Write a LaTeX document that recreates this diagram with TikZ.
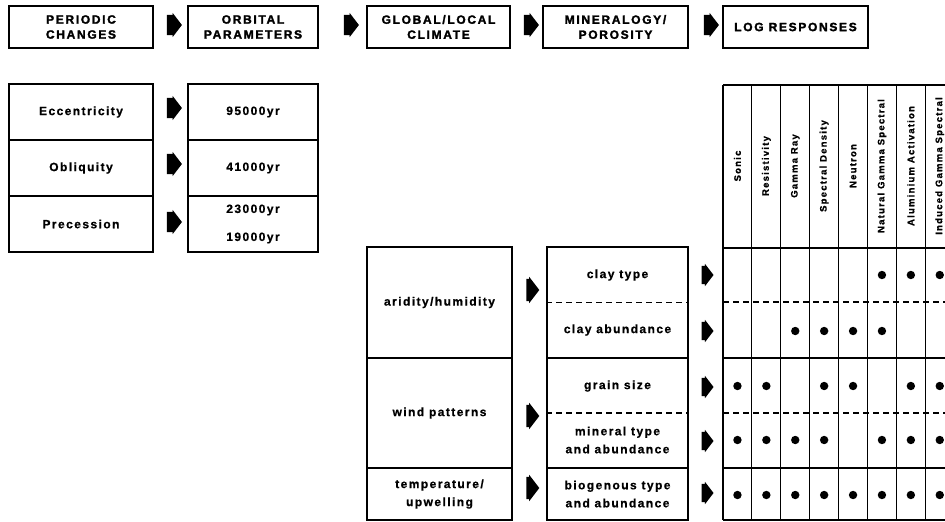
\documentclass[tikz,border=0pt]{standalone}
\usepackage{fontspec}
\setmainfont{Liberation Sans}
\newfontfamily\headfont[LetterSpace=14,FakeBold=2]{Liberation Sans}
\newfontfamily\bodyfont[LetterSpace=12,FakeBold=0.8]{Liberation Sans}
\newfontfamily\tabfont[LetterSpace=13,FakeBold=0.8]{Liberation Sans}
\usetikzlibrary{shapes.arrows}
\begin{document}
\begin{tikzpicture}[x=1pt,y=-1pt,
  head/.style={draw,line width=1.3pt,minimum height=42pt,align=center,inner sep=0pt,font=\headfont\bfseries\fontsize{12}{15}\selectfont},
  cell/.style={draw,line width=1.1pt,align=center,inner sep=0pt,font=\bodyfont\bfseries\fontsize{12}{18}\selectfont},
  grp/.style={draw,line width=1.1pt,inner sep=0pt},
  txt/.style={align=center,inner sep=0pt,font=\bodyfont\bfseries\fontsize{12}{18}\selectfont},
  tabtxt/.style={rotate=90,inner sep=0pt,font=\tabfont\bfseries\fontsize{9.5}{10}\selectfont},
  barrow/.style={single arrow,fill=black,draw=none,inner sep=0pt,single arrow tip angle=105,single arrow head extend=2pt,minimum height=15pt},
  rule/.style={line width=1.1pt},
  drule/.style={line width=1.1pt,dash pattern=on 6pt off 4pt},
  dot/.style={fill=black}]
\newcommand\shaftL{\rule{0pt}{20pt}}
\newcommand\shaftM{\rule{0pt}{22pt}}
\newcommand\shaftS{\rule{0pt}{18pt}}
\useasboundingbox (0,0) rectangle (945,522);
\clip (0,0) rectangle (945,522);
% top row
\node[head,minimum width=144pt] (b1) at (81,27) {PERIODIC\\CHANGES};
\node[head,minimum width=130pt] (b2) at (253,27) {ORBITAL\\PARAMETERS};
\node[head,minimum width=143pt] (b3) at (438.5,27) {GLOBAL/LOCAL\\CLIMATE};
\node[head,minimum width=145pt] (b4) at (615.5,27) {MINERALOGY/\\POROSITY};
\node[head,minimum width=145pt] (b5) at (795.5,27) {LOG RESPONSES};
\node[barrow] (a1) at (170.5,25) {\shaftL};
\node[barrow] (a2) at (347.5,25) {\shaftL};
\node[barrow] (a3) at (527.5,25) {\shaftL};
\node[barrow] (a4) at (707.5,25) {\shaftL};
% orbital rows
\node[cell,minimum width=144pt,minimum height=56pt] (ecc) at (81,112) {Eccentricity};
\node[cell,minimum width=144pt,minimum height=56pt] (obl) at (81,168) {Obliquity};
\node[cell,minimum width=144pt,minimum height=56pt] (pre) at (81,224) {Precession};
\node[cell,minimum width=130pt,minimum height=56pt] (t1) at (253,112) {95000yr};
\node[cell,minimum width=130pt,minimum height=56pt] (t2) at (253,168) {41000yr};
\node[cell,minimum width=130pt,minimum height=56pt] (t3) at (253,224) {23000yr\\[10pt]19000yr};
\node[barrow] (r1) at (170.5,108) {\shaftL};
\node[barrow] (r2) at (170.5,164) {\shaftL};
\node[barrow] (r3) at (170.5,222) {\shaftL};
% climate
\node[cell,minimum width=145pt,minimum height=111pt] (arid) at (439.5,302.5) {aridity/humidity};
\node[cell,minimum width=145pt,minimum height=110pt] (wind) at (439.5,413) {wind patterns};
\node[cell,minimum width=145pt,minimum height=52pt] (temp) at (439.5,494) {temperature/\\upwelling};
\node[barrow,minimum height=13pt] (m1) at (528.5,290) {\shaftM};
\node[barrow,minimum height=13pt] (m2) at (528.5,416) {\shaftM};
\node[barrow,minimum height=13pt] (m3) at (528.5,488) {\shaftM};
% mineralogy
\node[grp,minimum width=141pt,minimum height=111pt] (claygrp) at (617.5,302.5) {};
\draw[drule] (claygrp.west) -- (claygrp.east);
\node[txt] (ct) at (617.5,275) {clay type};
\node[txt] (ca) at (617.5,330) {clay abundance};
\node[grp,minimum width=141pt,minimum height=110pt] (graingrp) at (617.5,413) {};
\draw[drule] (graingrp.west) -- (graingrp.east);
\node[txt] (gs) at (617.5,386) {grain size};
\node[txt] (mt) at (617.5,440) {mineral type\\and abundance};
\node[cell,minimum width=141pt,minimum height=52pt] (bio) at (617.5,494) {biogenous type\\and abundance};
\node[barrow,minimum height=12pt] (s1) at (704,275) {\shaftS};
\node[barrow,minimum height=12pt] (s2) at (704,331) {\shaftS};
\node[barrow,minimum height=12pt] (s3) at (704,387) {\shaftS};
\node[barrow,minimum height=12pt] (s4) at (704,441) {\shaftS};
\node[barrow,minimum height=12pt] (s5) at (704,493) {\shaftS};
% table
\foreach \i in {0,...,8} {\draw[rule] (723+28.9*\i,85) -- (723+28.9*\i,520);}
\foreach \y in {85,248,358,468,520} {\draw[rule] (723,\y) -- (960,\y);}
\foreach \y in {302,413} {\draw[drule] (723,\y) -- (960,\y);}
\foreach \t [count=\c] in {Sonic,Resistivity,Gamma Ray,Spectral Density,Neutron,Natural Gamma Spectral,Aluminium Activation,Induced Gamma Spectral}
  {\node[tabtxt] (h\c) at (723+28.9*\c-14.45,166) {\t};}
\foreach \c in {6,7,8} {\fill[dot] (723+28.9*\c-14.45,275) circle (4.2pt);}
\foreach \c in {3,4,5,6} {\fill[dot] (723+28.9*\c-14.45,331) circle (4.2pt);}
\foreach \c in {1,2,4,5,7,8} {\fill[dot] (723+28.9*\c-14.45,386) circle (4.2pt);}
\foreach \c in {1,2,3,4,6,7,8} {\fill[dot] (723+28.9*\c-14.45,440) circle (4.2pt);}
\foreach \c in {1,...,8} {\fill[dot] (723+28.9*\c-14.45,495) circle (4.2pt);}
\end{tikzpicture}
\end{document}
